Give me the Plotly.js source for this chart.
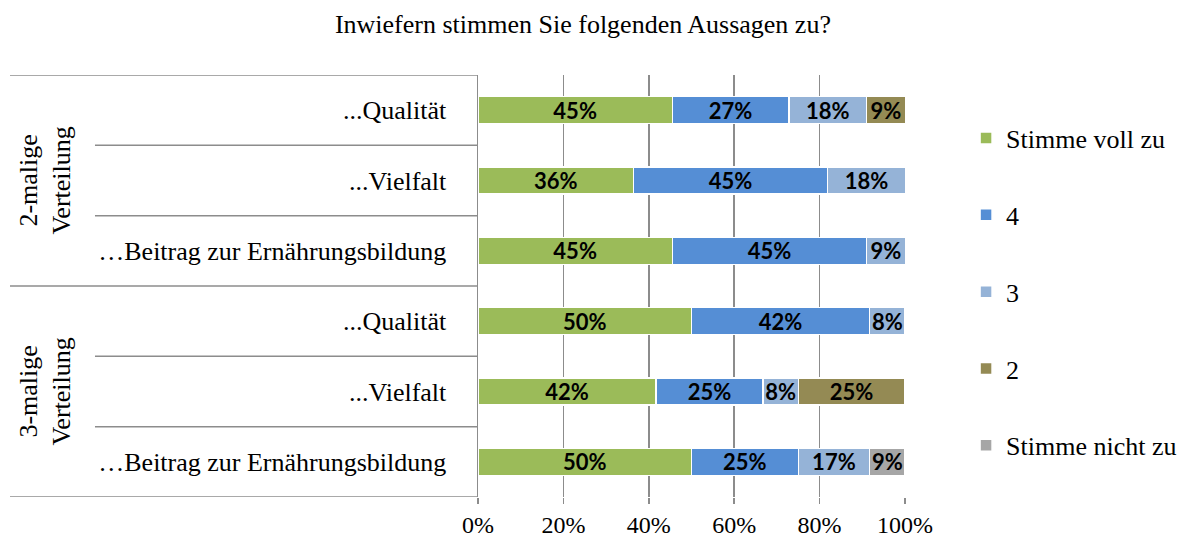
<!DOCTYPE html>
<html>
<head>
<meta charset="utf-8">
<script src="https://cdn.plot.ly/plotly-3.0.1.min.js"></script>
<style>html,body{margin:0;padding:0;background:#fff;}#chart{width:1180px;height:538px;}</style>
</head>
<body>
<div id="chart"></div>
<script>
// Row ids (top to bottom) and their displayed labels
const rowIds = ["2x-Qualitaet", "2x-Vielfalt", "2x-Beitrag", "3x-Qualitaet", "3x-Vielfalt", "3x-Beitrag"];
const rowLabels = ["...Qualität", "...Vielfalt", "…Beitrag zur Ernährungsbildung",
                   "...Qualität", "...Vielfalt", "…Beitrag zur Ernährungsbildung"];
const groupLabels = ["2-malige<br>Verteilung", "3-malige<br>Verteilung"];

const seriesNames = ["Stimme voll zu", "4", "3", "2", "Stimme nicht zu"];
// share of answers per row (percent)
const vollZu   = [45.5, 36.4, 45.5, 50.0, 41.7, 50.0];
const vier     = [27.3, 45.5, 45.5, 41.7, 25.0, 25.0];
const drei     = [18.2, 18.2, 9.1, 8.3, 8.3, 16.7];
const zwei     = [9.1, null, null, null, 25.0, null];
const nichtZu  = [null, null, null, null, null, 8.3];
// labels as printed on the bars
const vollZuTxt  = ["45%", "36%", "45%", "50%", "42%", "50%"];
const vierTxt    = ["27%", "45%", "45%", "42%", "25%", "25%"];
const dreiTxt    = ["18%", "18%", "9%", "8%", "8%", "17%"];
const zweiTxt    = ["9%", "", "", "", "25%", ""];
const nichtZuTxt = ["", "", "", "", "", "9%"];

const colors = ["#9BBB59", "#558ED5", "#95B3D7", "#948A54", "#A6A6A6"];
const values = [vollZu, vier, drei, zwei, nichtZu];
const texts = [vollZuTxt, vierTxt, dreiTxt, zweiTxt, nichtZuTxt];

const serif = "'Liberation Serif', 'Times New Roman', serif";
const FS = 26;

const traces = seriesNames.map((name, i) => ({
  type: "bar",
  orientation: "h",
  name: name,
  y: rowIds,
  x: values[i],
  text: texts[i],
  textposition: "inside",
  insidetextanchor: "middle",
  textangle: 0,
  constraintext: "none",
  textfont: {family: "Lato, 'Open Sans', sans-serif", size: 22, color: "#000", weight: "bold"},
  marker: {color: colors[i], line: {color: "#ffffff", width: 1.5}},
  legendgroup: "g" + i,
  hoverinfo: "skip"
}));

const lineColor = "#8c8c8c";
const shapes = [];
// horizontal separators of the label table
const bounds = [-0.5, 0.5, 1.5, 2.5, 3.5, 4.5, 5.5];
bounds.forEach(b => {
  const isGroup = (b === -0.5 || b === 2.5 || b === 5.5);
  shapes.push({type: "line", xref: "paper", yref: "y",
    x0: isGroup ? -1.096 : -0.897, x1: 0, y0: b, y1: b,
    line: {color: lineColor, width: 1.5}});
});

const annotations = [
  {text: groupLabels[0], xref: "paper", yref: "y", x: -1.014, y: 1, xanchor: "center", yanchor: "middle",
   textangle: -90, showarrow: false, font: {family: serif, size: FS, color: "#000"}, align: "center"},
  {text: groupLabels[1], xref: "paper", yref: "y", x: -1.014, y: 4, xanchor: "center", yanchor: "middle",
   textangle: -90, showarrow: false, font: {family: serif, size: FS, color: "#000"}, align: "center"}
];

const layout = {
  width: 1180, height: 538,
  margin: {l: 478, r: 275, t: 75, b: 41, autoexpand: false},
  paper_bgcolor: "#fff", plot_bgcolor: "#fff",
  barmode: "stack",
  bargap: 0.615,
  font: {family: serif, size: FS, color: "#000"},
  title: {text: "Inwiefern stimmen Sie folgenden Aussagen zu?", xref: "container", x: 0.494, y: 0.955,
          yanchor: "middle", font: {family: serif, size: FS, color: "#000"}},
  xaxis: {range: [0, 100], dtick: 20, tick0: 0, ticksuffix: "%", showgrid: true, gridcolor: lineColor, gridwidth: 1.5,
          zeroline: false, showline: false, ticks: "outside", ticklen: 6, tickcolor: lineColor, tickwidth: 1.5,
          ticklabelstandoff: 0, tickfont: {size: 24}, fixedrange: true, automargin: false},
  yaxis: {type: "category", categoryorder: "array", categoryarray: rowIds, range: [5.5, -0.5],
          tickvals: rowIds, ticktext: rowLabels, showgrid: false, zeroline: false,
          showline: true, linecolor: lineColor, linewidth: 1.5, ticks: "", ticklabelstandoff: 25,
          tickfont: {size: FS}, fixedrange: true, automargin: false},
  legend: {x: 1.143, xanchor: "left", y: 0.906, yanchor: "top", traceorder: "grouped", tracegroupgap: 40,
           font: {size: FS}, bgcolor: "rgba(0,0,0,0)"},
  shapes: shapes,
  annotations: annotations
};

Plotly.newPlot("chart", traces, layout, {displayModeBar: false, staticPlot: true});
</script>
</body>
</html>
